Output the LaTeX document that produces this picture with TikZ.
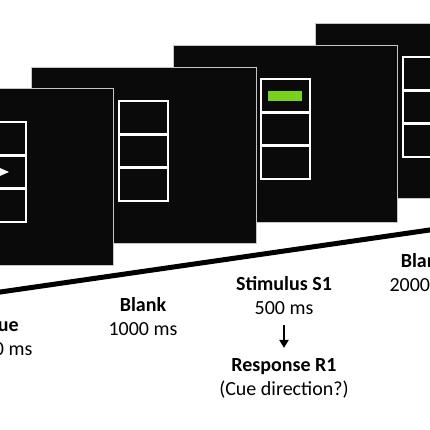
\documentclass[tikz,border=0pt]{standalone}
\usepackage{fontspec}
\setmainfont{Carlito}
\usepackage{xcolor}
\usepackage{tikz}
\usetikzlibrary{arrows.meta}
\definecolor{screenblack}{HTML}{0A0A0A}
\definecolor{stimgreen}{HTML}{7AD21E}

\begin{document}
\begin{tikzpicture}[x=1pt,y=-1pt,
  font=\fontsize{20}{24}\selectfont,
  screen/.style={fill=screenblack,draw=gray!45,line width=0.6pt},
  cell/.style={draw=white,line width=2.6pt},
  lbl/.style={align=center,inner sep=0pt}]
  \useasboundingbox (0,0) rectangle (430,430);
  \clip (0,0) rectangle (430,430);
  % last screen: blank
  \filldraw[screen] (315,23) rectangle (545,198);
  \draw[cell] (403,57) rectangle (452,90.3);
  \draw[cell] (403,90.3) rectangle (452,123.7);
  \draw[cell] (403,123.7) rectangle (452,157);
  % third screen: stimulus
  \filldraw[screen] (173,45) rectangle (397,222);
  \draw[cell] (261,79) rectangle (310,112.3);
  \draw[cell] (261,112.3) rectangle (310,145.7);
  \draw[cell] (261,145.7) rectangle (310,179);
  \fill[stimgreen] (268,91) rectangle (302,101);
  % second screen: blank
  \filldraw[screen] (31,67) rectangle (256,243);
  \draw[cell] (119,101) rectangle (168,134.3);
  \draw[cell] (119,134.3) rectangle (168,167.7);
  \draw[cell] (119,167.7) rectangle (168,201);
  % first screen: cue
  \filldraw[screen] (-112,88) rectangle (113,265);
  \draw[cell] (-23,122) rectangle (26,155.3);
  \draw[cell] (-23,155.3) rectangle (26,188.7);
  \draw[cell] (-23,188.7) rectangle (26,222);
  \fill[white] (-7,165) -- (9,172) -- (-7,179) -- (-2,172) -- cycle;
  % time line
  \coordinate (tstart) at (-10,293.5);
  \coordinate (tend) at (440,228.5);
  \draw[line width=5pt] (tstart) -- (tend);
  % labels
  \node[lbl] (cue) at (3,337) {\textbf{Cue}\\200 ms};
  \node[lbl] (blank1) at (143,317) {\textbf{Blank}\\1000 ms};
  \node[lbl] (stim) at (284,296) {\textbf{Stimulus S1}\\500 ms};
  \node[lbl] (blank2) at (424,273) {\textbf{Blank}\\2000 ms};
  \node[lbl] (resp) at (284,378) {\textbf{Response R1}\\(Cue direction?)};
  \draw[line width=2pt,-{Triangle[length=8pt,width=9pt]},shorten <=10pt,shorten >=10pt] (stim) -- (resp);
\end{tikzpicture}
\end{document}
